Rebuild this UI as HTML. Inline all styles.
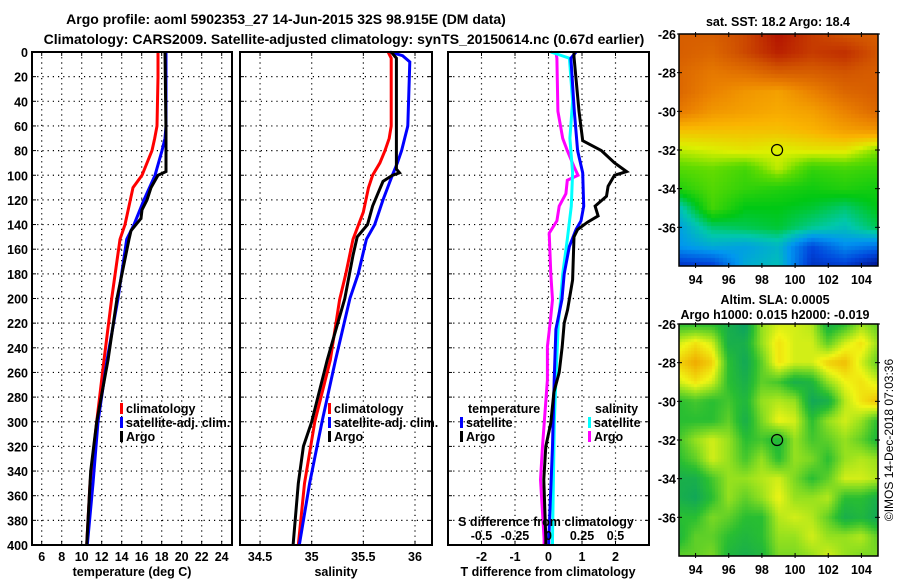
<!DOCTYPE html>
<html><head><meta charset="utf-8"><style>
body{margin:0;background:#fff}
svg{display:block;font-family:"Liberation Sans",sans-serif;font-weight:bold}
canvas{position:absolute}
</style></head><body>
<div style="position:relative;width:900px;height:580px">
<svg id="s" width="900" height="580"></svg>
<canvas id="sst" width="199" height="232" style="left:679px;top:34px"></canvas>
<canvas id="sla" width="199" height="232" style="left:679px;top:324px"></canvas>
<svg id="ov" width="900" height="580" style="position:absolute;left:0;top:0"></svg>
</div>
<script>
// ---- data ----
const tDepth=[0,20,60,70,80,100,110,140,152,200,250,300,350,400];
const tClim=[17.63,17.63,17.53,17.3,17.03,16.03,15.13,14.33,13.83,13.0,12.23,11.5,10.83,10.5];
const tSatD=[0,60,70,80,100,120,140,152,200,250,300,350,400];
const tSat=[18.43,18.43,18.33,18.03,17.33,16.23,15.23,14.5,13.63,12.53,11.63,11.13,10.56];
const tArgoD=[0,65,97,100,110,120,128,135,145,152,200,250,300,340,400];
const tArgo=[18.33,18.43,18.43,17.63,16.93,16.53,16.03,15.93,14.93,14.73,13.53,12.63,11.5,10.9,10.5];
const sClimD=[0,5,60,70,80,90,100,110,130,152,180,201,250,300,350,400];
const sClim=[35.74,35.77,35.77,35.75,35.71,35.66,35.59,35.55,35.5,35.4,35.33,35.27,35.18,35.03,34.93,34.87];
const sSatD=[0,3,8,60,70,80,90,100,120,140,152,180,200,250,300,350,400];
const sSat=[35.76,35.88,35.95,35.93,35.9,35.87,35.83,35.78,35.69,35.61,35.53,35.45,35.37,35.23,35.1,34.98,34.88];
const sArgoD=[0,5,95,98,100,105,115,125,140,150,165,200,250,280,300,320,350,400];
const sArgo=[35.77,35.82,35.82,35.85,35.78,35.69,35.64,35.59,35.54,35.44,35.4,35.32,35.15,35.06,35.0,34.92,34.87,34.82];
const dTArgoD=[0,4,48,72,80,90,97,100,109,117,125,133,138,144,150,185,209,220,239,260,276,301,320,347,395,400];
const dTArgo=[0.76,0.76,0.91,1.02,1.58,1.97,2.33,1.97,1.78,1.73,1.39,1.48,1.17,0.87,0.76,0.72,0.57,0.47,0.41,0.32,0.16,0.07,-0.08,-0.14,-0.08,-0.08];
const dTSatD=[0,5,48,80,98,125,137,144,158,180,201,225,266,320,395,400];
const dTSat=[0.82,0.67,0.77,0.87,1.02,1.05,0.97,0.82,0.62,0.47,0.4,0.22,0.17,0.12,0.01,0.01];
const dSSatD=[0,5,40,70,98,125,152,180,201,220,266,301,395,400];
const dSSat=[0.017,0.156,0.18,0.16,0.18,0.17,0.14,0.106,0.09,0.073,0.055,0.043,0.03,0.03];
const dSArgoD=[0,5,48,70,80,93,100,104,115,125,137,147,180,201,220,239,266,320,347,395,400];
const dSArgo=[0.055,0.063,0.07,0.106,0.14,0.19,0.22,0.14,0.13,0.08,0.063,0.005,0.017,0.03,0.012,-0.008,-0.008,-0.045,-0.06,-0.033,-0.033];
const depthTicks=[0,20,40,60,80,100,120,140,160,180,200,220,240,260,280,300,320,340,360,380,400];
const tTicks=[6,8,10,12,14,16,18,20,22,24];
const sTicks=[34.5,35,35.5,36];
const dTTicks=[-2,-1,0,1,2];
const dSTicks=[-0.5,-0.25,0,0.25,0.5];
const latTicks=[-26,-28,-30,-32,-34,-36];
const lonTicks=[94,96,98,100,102,104];
const sstLats=[-26,-27,-28,-29,-30,-31,-32,-33,-34,-35,-36,-37,-38];
const sstLons=[93,95,97,99,101,103,105];
const sstGrid=[
[19.6,19.6,19.8,20.2,19.9,19.7,19.6],
[19.6,19.5,19.8,20.1,19.9,20.0,19.7],
[19.5,19.3,19.4,19.6,19.6,19.7,19.6],
[19.5,19.2,19.0,18.9,19.2,19.5,19.6],
[19.3,19.0,18.9,18.8,18.9,19.2,19.5],
[18.6,18.6,18.6,18.6,18.7,18.9,19.0],
[18.1,18.2,18.3,18.2,18.3,18.3,17.9],
[17.7,17.8,17.6,18.1,17.5,17.6,17.5],
[17.4,17.7,17.5,17.4,17.3,17.4,17.3],
[16.6,17.6,17.2,17.2,17.1,16.9,17.2],
[16.3,16.9,17.0,17.1,16.8,16.6,17.0],
[16.2,16.4,16.3,16.5,15.6,16.1,15.9],
[15.4,15.5,16.4,16.6,15.4,15.5,15.0]];
const slaLons=[93,94,95,96,97,98,99,100,101,102,103,104,105];
const slaGrid=[
[.3,.3,.3,.2,.1,.5,.6,.6,.55,.2,.3,.5,.4],
[.6,.7,.6,.2,.2,.5,.7,.6,.6,.4,.6,.7,.5],
[.75,.85,.75,.3,.15,.4,.7,.6,.6,.75,.8,.6,.4],
[.6,.7,.6,.3,.2,.4,.35,.2,.25,.5,.65,.7,.6],
[.3,.35,.3,.35,.25,.5,.55,.5,.15,.2,.55,.7,.8],
[.3,.3,.3,.4,.2,.45,.65,.6,.3,.5,.6,.5,.3],
[.35,.5,.6,.5,.3,.35,.25,.5,.35,.4,.5,.4,.25],
[.3,.4,.6,.5,.35,.5,.3,.5,.45,.3,.5,.55,.5],
[.2,.2,.35,.5,.5,.55,.6,.45,.3,.4,.6,.6,.55],
[.2,.15,.3,.5,.4,.5,.65,.5,.5,.55,.3,.3,.2],
[.3,.3,.45,.4,.3,.3,.55,.6,.55,.4,.2,.25,.15],
[.25,.4,.4,.3,.25,.3,.5,.5,.6,.5,.5,.55,.4],
[.4,.4,.45,.25,.2,.25,.45,.45,.5,.6,.5,.45,.45]];
const argoLon=98.915, argoLat=-32;

// ---- helpers ----
const NS='http://www.w3.org/2000/svg';
const S=document.getElementById('s'), OV=document.getElementById('ov');
function el(p,tag,a,txt){const e=document.createElementNS(NS,tag);for(const k in a)e.setAttribute(k,a[k]);if(txt!=null)e.textContent=txt;p.appendChild(e);return e;}
const Y0=52,Y1=545;
const yD=d=>Y0+d*(Y1-Y0)/400;
const P1={x0:32,x1:232}, P2={x0:240,x1:432}, P3={x0:448,x1:649};
const xT=t=>41.7+(t-6)*10;
const xS=s=>311.7+(s-35)*103.3;
const xDT=t=>548.5+t*33.5;
const xDS=s=>548.5+s*134;

function frame(P,name){
  const g=el(S,'g',{});
  
  depthTicks.forEach(d=>{ if(d>0&&d<400){const l=el(g,'line',{x1:P.x0,x2:P.x1,y1:yD(d),y2:yD(d),stroke:'#000','stroke-width':1.2,'stroke-dasharray':'1.2 4'});}
    el(g,'line',{x1:P.x0,x2:P.x0+4,y1:yD(d),y2:yD(d),stroke:'#000'});el(g,'line',{x1:P.x1-4,x2:P.x1,y1:yD(d),y2:yD(d),stroke:'#000'});});
  return g;
}
function vgrid(g,ticks,fx){ticks.forEach(v=>{const l=el(g,'line',{x1:fx(v),x2:fx(v),y1:Y0,y2:Y1,stroke:'#000','stroke-width':1.2,'stroke-dasharray':'1.2 4'});
  el(g,'line',{x1:fx(v),x2:fx(v),y1:Y1-4,y2:Y1,stroke:'#000'});el(g,'line',{x1:fx(v),x2:fx(v),y1:Y0,y2:Y0+4,stroke:'#000'});});}
function border(P){const r=el(S,'rect',{x:P.x0,y:Y0,width:P.x1-P.x0,height:Y1-Y0,fill:'none',stroke:'#000','stroke-width':2});}
function curve(depths,vals,fx,color,name){
  const pts=depths.map((d,i)=>fx(vals[i]).toFixed(1)+','+yD(d).toFixed(1)).join(' ');
  const p=el(S,'polyline',{points:pts,fill:'none',stroke:color,'stroke-width':3,'stroke-linejoin':'miter'});
  
}
function text(p,x,y,s,size,anchor,name){const t=el(p,'text',{x:x,y:y,'font-size':size,'text-anchor':anchor||'start'},s);return t;}
function legend(x,y,color,label){const r=el(S,'rect',{x:x,y:y-10,width:3,height:11,fill:color});text(S,x+6,y,label,12.5,'start','legend-entry');}

// titles
text(S,286,24,'Argo profile: aoml 5902353_27 14-Jun-2015 32S 98.915E (DM data)',14,'middle','chart-title');
text(S,344,44,'Climatology: CARS2009. Satellite-adjusted climatology: synTS_20150614.nc (0.67d earlier)',14,'middle','chart-subtitle');

// panel 1
let g1=frame(P1,'temperature-panel');vgrid(g1,tTicks,xT);
depthTicks.forEach(d=>text(S,28,yD(d)+5,String(d),12.5,'end','depth-tick-label'));
tTicks.forEach(t=>text(S,xT(t),561,String(t),12.5,'middle','temperature-tick-label'));
text(S,132,576,'temperature (deg C)',12.5,'middle','temperature-axis-title');
curve(tDepth,tClim,xT,'#ff0000','temp-climatology-line');
curve(tSatD,tSat,xT,'#0000ff','temp-satellite-line');
curve(tArgoD,tArgo,xT,'#000','temp-argo-line');
border(P1);
legend(120,413,'#ff0000','climatology');legend(120,427,'#0000ff','satellite-adj. clim.');legend(120,441,'#000','Argo');

// panel 2
let g2=frame(P2,'salinity-panel');vgrid(g2,sTicks,xS);
sTicks.forEach(s=>text(S,xS(s),561,String(s),12.5,'middle','salinity-tick-label'));
text(S,336,576,'salinity',12.5,'middle','salinity-axis-title');
curve(sClimD,sClim,xS,'#ff0000','sal-climatology-line');
curve(sSatD,sSat,xS,'#0000ff','sal-satellite-line');
curve(sArgoD,sArgo,xS,'#000','sal-argo-line');
border(P2);
legend(328,413,'#ff0000','climatology');legend(328,427,'#0000ff','satellite-adj. clim.');legend(328,441,'#000','Argo');

// panel 3
let g3=frame(P3,'difference-panel');vgrid(g3,dTTicks,xDT);
dTTicks.forEach(t=>text(S,xDT(t),561,String(t),12.5,'middle','t-diff-tick-label'));
text(S,548,576,'T difference from climatology',12.5,'middle','t-diff-axis-title');
curve(dSArgoD,dSArgo,xDS,'#ff00ff','sdiff-argo-line');
curve(dSSatD,dSSat,xDS,'#00ffff','sdiff-satellite-line');
curve(dTSatD,dTSat,xDT,'#0000ff','tdiff-satellite-line');
curve(dTArgoD,dTArgo,xDT,'#000','tdiff-argo-line');
border(P3);
text(S,546,526,'S difference from climatology',12.5,'middle','s-diff-axis-title');
dSTicks.forEach(s=>text(S,xDS(s),540,String(s),12.5,'middle','s-diff-tick-label'));
text(S,468,413,'temperature',12.5,'start','legend-title-temperature');
text(S,595,413,'salinity',12.5,'start','legend-title-salinity');
legend(460,427,'#0000ff','satellite');legend(460,441,'#000','Argo');
legend(588,427,'#00ffff','satellite');legend(588,441,'#ff00ff','Argo');

// ---- maps ----
const MX0=679,MW=199,MH=232;
const lonX=lon=>(lon-93)/12*MW; const latY=lat=>(-26-lat)/12*MH;
function interp(grid,lons,lats,lon,lat){
  let i=0;while(i<lons.length-2&&lon>lons[i+1])i++;
  let j=0;while(j<lats.length-2&&lat<lats[j+1])j++;
  const fx=Math.min(1,Math.max(0,(lon-lons[i])/(lons[i+1]-lons[i])));
  const fy=Math.min(1,Math.max(0,(lat-lats[j])/(lats[j+1]-lats[j])));
  const a=grid[j][i],b=grid[j][i+1],c=grid[j+1][i],d=grid[j+1][i+1];
  return a*(1-fx)*(1-fy)+b*fx*(1-fy)+c*(1-fx)*fy+d*fx*fy;
}
function cmap(v,stops){
  if(v<=stops[0][0])return stops[0][1];
  for(let k=0;k<stops.length-1;k++){if(v<=stops[k+1][0]){const f=(v-stops[k][0])/(stops[k+1][0]-stops[k][0]);
    const A=stops[k][1],B=stops[k+1][1];return A.map((x,n)=>Math.round(x+(B[n]-x)*f));}}
  return stops[stops.length-1][1];
}
const sstStops=[[15.0,[0,16,140]],[15.6,[0,70,220]],[16.2,[0,150,240]],[16.7,[0,200,170]],[17.2,[0,200,20]],[17.8,[100,220,0]],[18.2,[220,240,0]],[18.7,[250,180,0]],[19.2,[235,130,0]],[19.7,[210,85,0]],[20.2,[180,20,0]]];
const slaStops=[[0.1,[10,160,100]],[0.3,[40,190,50]],[0.5,[150,225,30]],[0.65,[240,245,20]],[0.85,[240,170,0]]];
function drawMap(id,grid,lons,cell,stops){
  const c=document.getElementById(id).getContext('2d');
  for(let y=0;y<MH;y+=cell)for(let x=0;x<MW;x+=cell){
    const lon=93+(x+cell/2)/MW*12, lat=-26-(y+cell/2)/MH*12;
    const col=cmap(interp(grid,lons,sstLats,lon,lat),stops);
    c.fillStyle='rgb('+col.join(',')+')';c.fillRect(x,y,cell,cell);
  }
}
drawMap('sst',sstGrid,sstLons,4,sstStops);
drawMap('sla',slaGrid,slaLons,3,slaStops);
[[34,'sst-map-frame'],[324,'sla-map-frame']].forEach(([top,name])=>{
  const r=el(OV,'rect',{x:MX0,y:top,width:MW,height:MH,fill:'none',stroke:'#000','stroke-width':1.5});
  latTicks.forEach(l=>{const y=top+latY(l);el(OV,'line',{x1:MX0+MW-3,x2:MX0+MW+2,y1:y,y2:y,stroke:'#000'});el(OV,'line',{x1:MX0-2,x2:MX0+3,y1:y,y2:y,stroke:'#000'});text(OV,676,y+5,String(l),12.5,'end','latitude-tick-label');});
  lonTicks.forEach(l=>{const x=MX0+lonX(l);el(OV,'line',{x1:x,x2:x,y1:top+MH-3,y2:top+MH+2,stroke:'#000'});el(OV,'line',{x1:x,x2:x,y1:top-2,y2:top+3,stroke:'#000'});text(OV,x,top+MH+18,String(l),12.5,'middle','longitude-tick-label');});
  const m=el(OV,'circle',{cx:MX0+lonX(argoLon),cy:top+latY(argoLat),r:5.5,fill:'none',stroke:'#000','stroke-width':1.2});
});
text(OV,778,26,'sat. SST: 18.2 Argo: 18.4',12.5,'middle','sst-map-title');
text(OV,775,304,'Altim. SLA: 0.0005',12.5,'middle','sla-map-title');
text(OV,775,319,'Argo h1000: 0.015 h2000: -0.019',12.5,'middle','sla-map-subtitle');
const cr=text(OV,0,0,'©IMOS 14-Dec-2018 07:03:36',12,'middle','timestamp-credit');
cr.setAttribute('font-weight','normal');cr.setAttribute('transform','translate(893,440) rotate(-90)');
</script>
</body></html>
